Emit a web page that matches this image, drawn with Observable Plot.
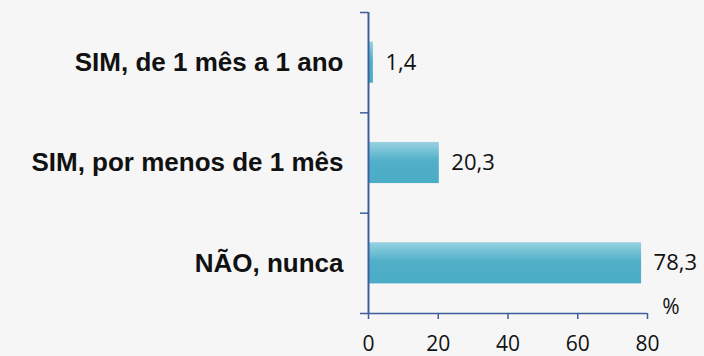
<!DOCTYPE html>
<html>
<head>
<meta charset="utf-8">
<script src="https://cdn.jsdelivr.net/npm/d3@7"></script>
<script src="https://cdn.jsdelivr.net/npm/@observablehq/plot@0.6"></script>
<style>
  html, body { margin: 0; padding: 0; background: #f6f6f6; }
  #chart { width: 704px; height: 356px; }
</style>
</head>
<body>
<div id="chart"></div>
<script>
const categories = ["SIM, de 1 mês a 1 ano", "SIM, por menos de 1 mês", "NÃO, nunca"];
const values = [1.4, 20.3, 78.3];
const valueLabels = ["1,4", "20,3", "78,3"];
const xTicks = [0, 20, 40, 60, 80];
const unitLabel = "%";

const rows = categories.map((c, i) => ({ cat: c, i, value: values[i], label: valueLabels[i] }));
const bandHalf = 0.205; // half bar thickness in band units
const axisColor = "#3E5E9C";

const plot = Plot.plot({
  width: 704,
  height: 356,
  marginLeft: 368,
  marginRight: 57,
  marginTop: 12,
  marginBottom: 43,
  style: { background: "transparent", overflow: "visible" },
  x: { domain: [0, 80] },
  y: { domain: [0, categories.length], reverse: true },
  marks: [
    Plot.rectX(rows, {
      x1: 0, x2: "value",
      y1: d => d.i + 0.5 - bandHalf, y2: d => d.i + 0.5 + bandHalf,
      fill: "url(#barGrad)"
    }),
    Plot.text(rows, {
      x: "value", y: d => d.i + 0.5, text: "label",
      dx: 12, textAnchor: "start",
      fontFamily: "Open Sans", fontSize: 22, fill: "#111"
    }),
    Plot.text(rows, {
      x: 0, y: d => d.i + 0.5, text: "cat",
      dx: -25, textAnchor: "end",
      fontFamily: "Liberation Sans, Arial", fontWeight: "bold", fontSize: 26, fill: "#111"
    }),
    Plot.axisY({
      ticks: d3.range(categories.length + 1),
      tickFormat: () => "",
      tickSize: 8, stroke: axisColor, strokeWidth: 1.5, strokeOpacity: 1
    }),
    Plot.axisX({
      ticks: xTicks, tickSize: 6, tickPadding: 17,
      stroke: axisColor, strokeWidth: 1.5, strokeOpacity: 1,
      label: null, fontFamily: "Open Sans", fontSize: 21, fill: "#111", color: "#111"
    }),
    Plot.ruleX([0], { y1: 0, y2: categories.length, stroke: axisColor, strokeWidth: 2 }),
    Plot.ruleY([categories.length], { x1: 0, x2: 80, stroke: axisColor, strokeWidth: 1.5 }),
    Plot.text([unitLabel], {
      frameAnchor: "bottom-right", text: d => d,
      dx: 32, dy: 0, fontFamily: "Open Sans", fontSize: 21, fill: "#111"
    })
  ]
});

const svg = d3.select(plot);
const defs = svg.insert("defs", ":first-child");
const grad = defs.append("linearGradient")
  .attr("id", "barGrad").attr("x1", 0).attr("y1", 0).attr("x2", 0).attr("y2", 1);
grad.append("stop").attr("offset", "0%").attr("stop-color", "#97D2E2");
grad.append("stop").attr("offset", "45%").attr("stop-color", "#52B0C9");
grad.append("stop").attr("offset", "100%").attr("stop-color", "#4AACC5");

document.getElementById("chart").appendChild(plot);
</script>
</body>
</html>
